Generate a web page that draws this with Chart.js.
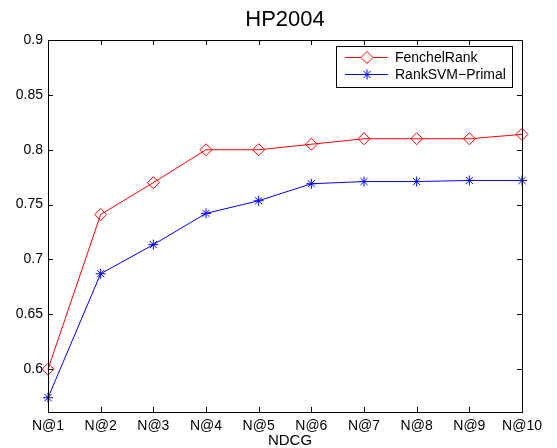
<!DOCTYPE html>
<html>
<head>
<meta charset="utf-8">
<script src="https://cdn.jsdelivr.net/npm/chart.js@4.4.1/dist/chart.umd.min.js"></script>
<style>
html,body{margin:0;padding:0;background:#fff;}
#wrap{width:557px;height:448px;position:relative;}
</style>
</head>
<body>
<div id="wrap"><canvas id="c" width="557" height="448"></canvas></div>
<script>
const categories = ['N@1','N@2','N@3','N@4','N@5','N@6','N@7','N@8','N@9','N@10'];
const fenchelRank = [0.600, 0.741, 0.770, 0.800, 0.800, 0.805, 0.810, 0.810, 0.810, 0.814];
const rankSVMPrimal = [0.574, 0.687, 0.7135, 0.742, 0.7535, 0.769, 0.771, 0.771, 0.772, 0.772];
const yTicks = [0.6, 0.65, 0.7, 0.75, 0.8, 0.85, 0.9];
const seriesNames = ['FenchelRank', 'RankSVM\u2212Primal'];
const chartTitle = 'HP2004';
const xTitle = 'NDCG';

const FONT = 'Liberation Sans, Arial, Helvetica, sans-serif';

const framePlugin = {
  id: 'frame',
  afterDraw(chart) {
    const ctx = chart.ctx;
    const a = chart.chartArea;
    const xs = chart.scales.x, ys = chart.scales.y;
    ctx.save();
    ctx.strokeStyle = '#000';
    ctx.lineWidth = 1;
    ctx.strokeRect(Math.round(a.left)+0.5, Math.round(a.top)+0.5, Math.round(a.right-a.left), Math.round(a.bottom-a.top));
    const tl = 5;
    ctx.beginPath();
    categories.forEach((c,i)=>{
      const x = Math.round(xs.getPixelForValue(i))+0.5;
      ctx.moveTo(x, a.bottom); ctx.lineTo(x, a.bottom - tl);
      ctx.moveTo(x, a.top); ctx.lineTo(x, a.top + tl);
    });
    yTicks.forEach(v=>{
      const y = Math.round(ys.getPixelForValue(v))+0.5;
      ctx.moveTo(a.left, y); ctx.lineTo(a.left + tl, y);
      ctx.moveTo(a.right, y); ctx.lineTo(a.right - tl, y);
    });
    ctx.stroke();
    ctx.fillStyle = '#000';
    ctx.font = '22px ' + FONT;
    ctx.textAlign = 'center';
    ctx.textBaseline = 'alphabetic';
    ctx.fillText(chartTitle, (a.left+a.right)/2, 26);
    ctx.font = '15px ' + FONT;
    ctx.fillText(xTitle, (a.left+a.right)/2 + 5, 445);
    const lx = 336, ly = 46, lw = 176, lh = 41;
    ctx.fillStyle = '#fff';
    ctx.fillRect(lx, ly, lw, lh);
    ctx.strokeStyle = '#000';
    ctx.strokeRect(lx+0.5, ly+0.5, lw, lh);
    const rows = [57, 74];
    chart.data.datasets.forEach((ds, i) => {
      const y = rows[i];
      ctx.strokeStyle = ds.borderColor;
      ctx.lineWidth = 1;
      ctx.beginPath();
      ctx.moveTo(345, y+0.5); ctx.lineTo(388, y+0.5);
      ctx.stroke();
      ctx.strokeStyle = ds.pointBorderColor;
      ctx.fillStyle = '#fff';
      Chart.helpers.drawPoint(ctx, {pointStyle: ds.pointStyle, radius: ds.pointRadius, borderWidth: 1, rotation: 0}, 367, y+0.5);
      ctx.fillStyle = '#000';
      ctx.font = '14px ' + FONT;
      ctx.textAlign = 'left';
      ctx.textBaseline = 'middle';
      ctx.fillText(ds.label, 395, y+1);
    });
    ctx.restore();
  }
};

new Chart(document.getElementById('c'), {
  type: 'line',
  data: {
    labels: categories,
    datasets: [
      {
        label: seriesNames[0],
        data: fenchelRank,
        borderColor: '#ff0000',
        backgroundColor: 'rgba(0,0,0,0)',
        borderWidth: 1,
        pointStyle: 'rectRot',
        pointRadius: 6,
        pointBorderWidth: 1,
        pointBackgroundColor: 'rgba(0,0,0,0)',
        pointBorderColor: '#ff0000',
        tension: 0
      },
      {
        label: seriesNames[1],
        data: rankSVMPrimal,
        borderColor: '#0000ff',
        backgroundColor: 'rgba(0,0,0,0)',
        borderWidth: 1,
        pointStyle: 'star',
        pointRadius: 5,
        pointBorderWidth: 1,
        pointBackgroundColor: '#0000ff',
        pointBorderColor: '#0000ff',
        tension: 0
      }
    ]
  },
  options: {
    responsive: false,
    animation: false,
    events: [],
    layout: { padding: { top: 40, right: 35, left: 0, bottom: 0 } },
    plugins: { legend: { display: false }, title: { display: false }, tooltip: { enabled: false } },
    scales: {
      x: {
        type: 'category',
        offset: false,
        grid: { display: false, drawTicks: false },
        border: { display: false },
        ticks: { color: '#000', font: { family: FONT, size: 14 }, padding: 6, maxRotation: 0, autoSkip: false },
        afterFit(s) { s.height = 36; }
      },
      y: {
        min: 0.561,
        max: 0.9,
        grid: { display: false, drawTicks: false },
        border: { display: false },
        afterBuildTicks(s) { s.ticks = yTicks.map(v => ({ value: v })); },
        ticks: {
          color: '#000',
          font: { family: FONT, size: 14 },
          padding: 5,
          callback: (v) => String(Number(Number(v).toFixed(2)))
        },
        afterFit(s) { s.width = 48; }
      }
    }
  },
  plugins: [framePlugin]
});
</script>
</body>
</html>
